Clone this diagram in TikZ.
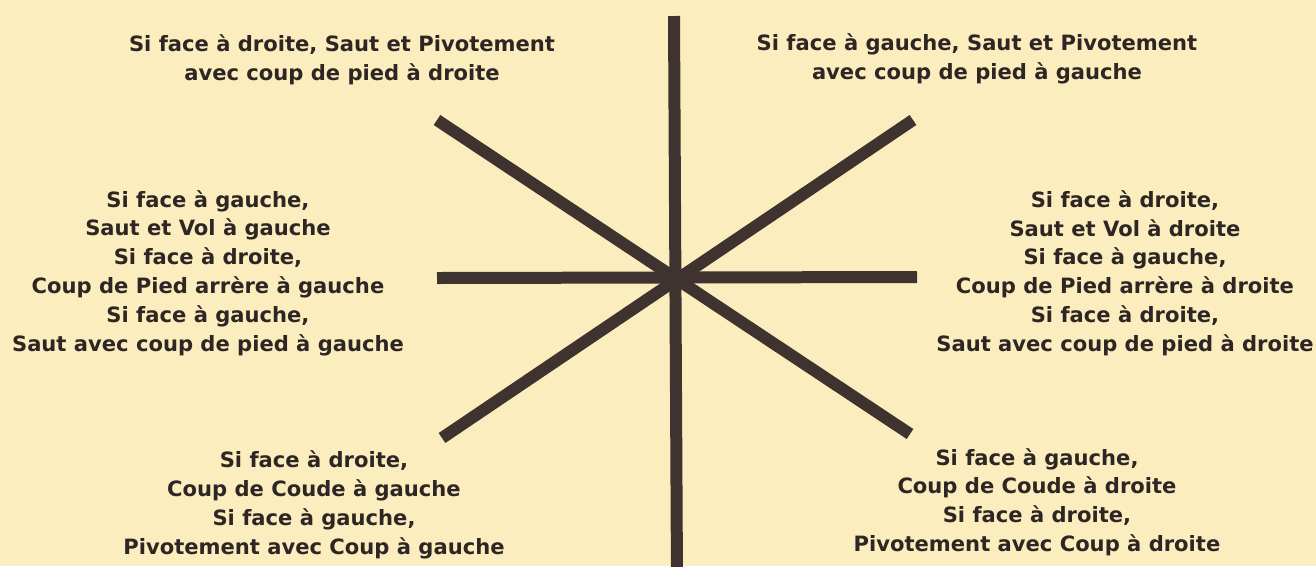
\documentclass[tikz,border=0pt]{standalone}
\usepackage{fontspec}
\setmainfont{DejaVu Sans}
\usepackage{xcolor}
\usepackage{tikz}
\usetikzlibrary{positioning}

\definecolor{parchment}{HTML}{FCEDBE}
\definecolor{ink}{HTML}{3F3330}
\definecolor{lettering}{HTML}{2E2624}

\begin{document}
\begin{tikzpicture}[
    x=0.02cm, y=-0.02cm,
    move/.style={align=center, text=lettering, inner sep=0pt,
                 font=\bfseries\fontsize{12}{16.4}\selectfont},
    spoke/.style={ink, line width=0.24cm}
]
    \fill[parchment] (0,0) rectangle (1316,566);
    \useasboundingbox (0,0) rectangle (1316,566);

    \coordinate (c) at (676,278);
    \coordinate (n) at (674,16);
    \coordinate (s) at (677,580);
    \coordinate (w) at (437,278);
    \coordinate (e) at (917,277);
    \coordinate (nw) at (437,120);
    \coordinate (ne) at (913,120);
    \coordinate (sw) at (442,438);
    \coordinate (se) at (910,434);

    \begin{scope}
        \clip (0,0) rectangle (1316,566);
        \draw[spoke] (n) -- (s);
        \draw[spoke] (w) -- (e);
        \draw[spoke] (nw) -- (se);
        \draw[spoke] (ne) -- (sw);
    \end{scope}

    \node[move] (tl) at (342,60) {Si face à droite, Saut et Pivotement\\
    avec coup de pied à droite};
    \node[move] (tr) at (977,59) {Si face à gauche, Saut et Pivotement\\
    avec coup de pied à gauche};
    \node[move] (ml) at (208,273) {Si face à gauche,\\ Saut et Vol à gauche\\
    Si face à droite,\\ Coup de Pied arrère à gauche\\
    Si face à gauche,\\ Saut avec coup de pied à gauche};
    \node[move] (mr) at (1125,273) {Si face à droite,\\ Saut et Vol à droite\\
    Si face à gauche,\\ Coup de Pied arrère à droite\\
    Si face à droite,\\ Saut avec coup de pied à droite};
    \node[move] (bl) at (314,505) {Si face à droite,\\ Coup de Coude à gauche\\
    Si face à gauche,\\ Pivotement avec Coup à gauche};
    \node[move] (br) at (1037,502) {Si face à gauche,\\ Coup de Coude à droite\\
    Si face à droite,\\ Pivotement avec Coup à droite};
\end{tikzpicture}
\end{document}
